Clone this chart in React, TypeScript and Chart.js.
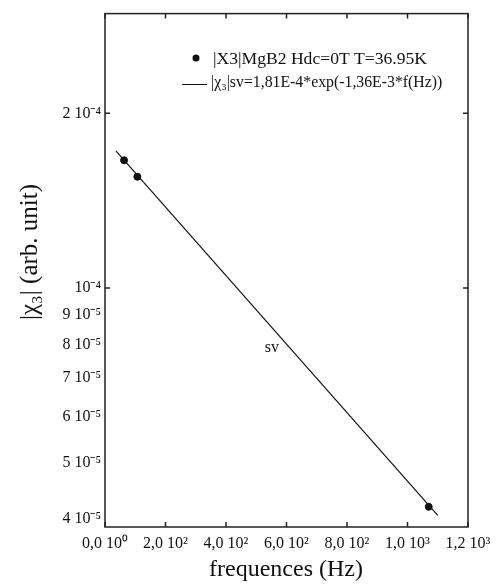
import React, { useEffect, useRef } from "react";
import { Chart, registerables } from "chart.js";

Chart.register(...registerables);

const measFreq = [63, 107, 1070];
const measChi = [1.66e-4, 1.555e-4, 4.2e-5];
const fitFreq = [36, 1100];
const fitChi = [1.723e-4, 4.06e-5];

const xTickValues = [0, 200, 400, 600, 800, 1000, 1200];
const xTickLabels = ["0,0 10⁰", "2,0 10²", "4,0 10²", "6,0 10²", "8,0 10²", "1,0 10³", "1,2 10³"];
const yTickValues = [4e-5, 5e-5, 6e-5, 7e-5, 8e-5, 9e-5, 1e-4, 2e-4];
const yTickLabels = ["4 10⁻⁵", "5 10⁻⁵", "6 10⁻⁵", "7 10⁻⁵", "8 10⁻⁵", "9 10⁻⁵", "10⁻⁴", "2 10⁻⁴"];
const yMajorTicks = [1e-4, 2e-4];

const legendScatter = "|X3|MgB2 Hdc=0T T=36.95K";
const legendFit = "|χ₃|sv=1,81E-4*exp(-1,36E-3*f(Hz))";
const xTitle = "frequences (Hz)";
const yTitle = "|χ₃| (arb. unit)";
const annotText = "sv";
const annotPos = { x: 552, y: 7.9e-5 };

const SERIF = '"Liberation Serif", "Times New Roman", serif';

export default function App() {
  const ref = useRef<HTMLCanvasElement>(null);
  useEffect(() => {
    const canvas = ref.current!;
    const decor = {
      id: "decor",
      afterDraw(chart: any) {
        const ctx = chart.ctx as CanvasRenderingContext2D;
        const a = chart.chartArea;
        const xs = chart.scales.x;
        const ys = chart.scales.y;
        ctx.save();
        ctx.strokeStyle = "#222";
        ctx.lineWidth = 1.5;
        ctx.strokeRect(a.left, a.top, a.right - a.left, a.bottom - a.top);
        ctx.beginPath();
        for (const v of xTickValues) {
          const px = xs.getPixelForValue(v);
          ctx.moveTo(px, a.top);
          ctx.lineTo(px, a.top + 5);
          ctx.moveTo(px, a.bottom);
          ctx.lineTo(px, a.bottom - 5);
        }
        for (const v of yMajorTicks) {
          const py = ys.getPixelForValue(v);
          ctx.moveTo(a.left, py);
          ctx.lineTo(a.left + 5, py);
          ctx.moveTo(a.right, py);
          ctx.lineTo(a.right - 5, py);
        }
        ctx.stroke();

        ctx.fillStyle = "#111";
        ctx.strokeStyle = "#111";
        // legend
        ctx.beginPath();
        ctx.arc(196, 58, 3.5, 0, Math.PI * 2);
        ctx.fill();
        ctx.font = `17.6px ${SERIF}`;
        ctx.textAlign = "left";
        ctx.textBaseline = "middle";
        ctx.fillText(legendScatter, 213, 59);
        ctx.lineWidth = 1;
        ctx.beginPath();
        ctx.moveTo(182, 84.5);
        ctx.lineTo(207, 84.5);
        ctx.stroke();
        ctx.font = `15.8px ${SERIF}`;
        ctx.fillText(legendFit, 211, 83);

        // annotation
        ctx.font = `16px ${SERIF}`;
        ctx.textAlign = "center";
        ctx.fillText(annotText, xs.getPixelForValue(annotPos.x), ys.getPixelForValue(annotPos.y));

        // axis titles
        ctx.font = `24px ${SERIF}`;
        ctx.textAlign = "center";
        ctx.fillText(xTitle, 286, 570);
        ctx.save();
        ctx.translate(30, 252);
        ctx.rotate(-Math.PI / 2);
        ctx.font = `25px ${SERIF}`;
        ctx.fillText(yTitle, 0, 0);
        ctx.restore();
        ctx.restore();
      },
    };

    const chart = new Chart(canvas, {
      type: "scatter",
      data: {
        datasets: [
          {
            type: "line",
            data: fitFreq.map((f, i) => ({ x: f, y: fitChi[i] })),
            borderColor: "#111",
            borderWidth: 1.2,
            pointRadius: 0,
            fill: false,
          },
          {
            type: "scatter",
            data: measFreq.map((f, i) => ({ x: f, y: measChi[i] })),
            backgroundColor: "#111",
            borderColor: "#111",
            pointRadius: 3.5,
          },
        ],
      },
      options: {
        animation: false,
        responsive: false,
        events: [],
        layout: { padding: { top: 7, right: 33, left: 0, bottom: 0 } },
        plugins: { legend: { display: false }, tooltip: { enabled: false } },
        scales: {
          x: {
            type: "linear",
            min: 0,
            max: 1200,
            afterFit: (s: any) => { s.height = 60; },
            afterBuildTicks: (s: any) => { s.ticks = xTickValues.map((v) => ({ value: v })); },
            grid: { display: false, drawTicks: false },
            border: { display: false },
            ticks: {
              color: "#111",
              padding: 7,
              maxRotation: 0,
              autoSkip: false,
              font: { family: SERIF, size: 16 },
              callback: (v: any) => {
                const i = xTickValues.indexOf(Number(v));
                return i >= 0 ? xTickLabels[i] : "";
              },
            },
          },
          y: {
            type: "logarithmic",
            min: 3.877e-5,
            max: 2.97e-4,
            afterFit: (s: any) => { s.width = 105; },
            afterBuildTicks: (s: any) => { s.ticks = yTickValues.map((v) => ({ value: v })); },
            grid: { display: false, drawTicks: false },
            border: { display: false },
            ticks: {
              color: "#111",
              padding: 4,
              autoSkip: false,
              font: { family: SERIF, size: 16 },
              callback: (v: any) => {
                const i = yTickValues.findIndex((t) => Math.abs(t - Number(v)) / t < 1e-6);
                return i >= 0 ? yTickLabels[i] : "";
              },
            },
          },
        },
      },
      plugins: [decor],
    } as any);
    return () => chart.destroy();
  }, []);

  return (
    <div style={{ position: "fixed", left: 0, top: 0, width: 501, height: 587, background: "#fff" }}>
      <canvas ref={ref} width={501} height={587} style={{ width: 501, height: 587 }} />
    </div>
  );
}
